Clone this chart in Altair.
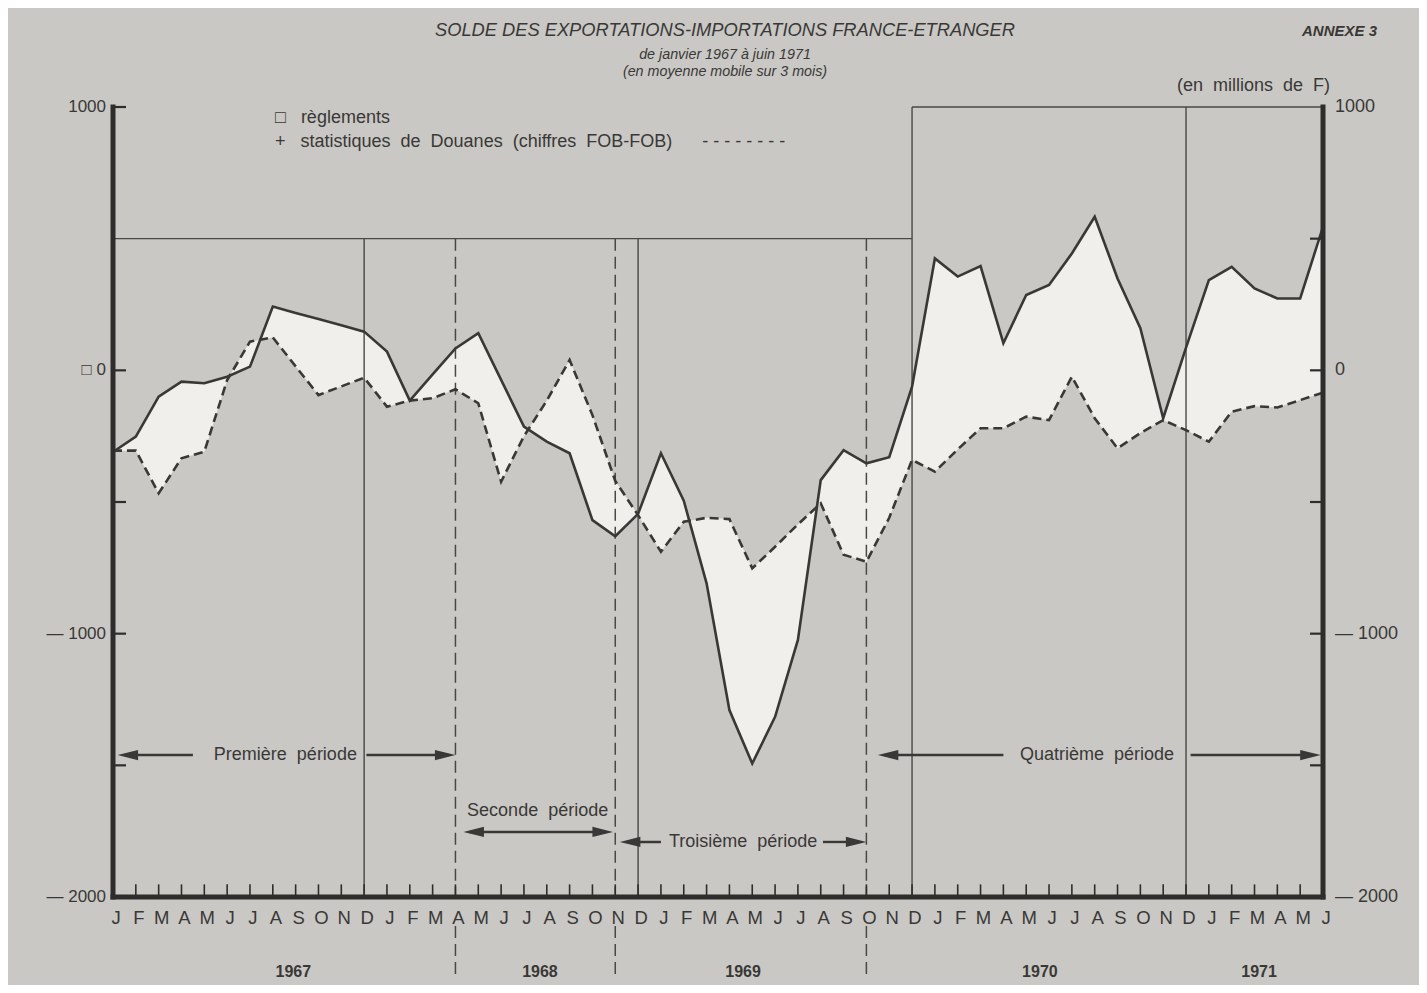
import altair as alt
import pandas as pd

# ---------------- data (millions de F, moyenne mobile 3 mois) ----------------
months = list("JFMAMJJASOND") * 4 + list("JFMAMJ")   # janv. 1967 -> juin 1971

reglements = [
    -310, -252, -100, -43, -49, -24, 14, 242, 218, 195, 171, 147,      # 1967
    71, -115, -15, 83, 141, -36, -214, -271, -315, -569, -630, -545,   # 1968
    -315, -495, -809, -1290, -1493, -1316, -1024, -417, -303, -353, -330, -62,  # 1969
    425, 356, 396, 103, 286, 324, 444, 583, 349, 160, -182, 86,        # 1970
    343, 393, 311, 273, 273, 545,                                      # 1971
]
douanes = [
    -305, -305, -467, -334, -309, -37, 109, 125, 15, -94, -61, -28,
    -138, -115, -106, -72, -125, -423, -250, -115, 39, -170, -420, -550,
    -689, -575, -560, -565, -752, -670, -585, -505, -700, -727, -560, -340,
    -385, -300, -220, -220, -176, -189, -24, -182, -296, -238, -189, -227,
    -271, -157, -136, -141, -113, -85,
]

years = ["1967", "1968", "1969", "1970", "1971"]
year_pos = [7.9, 18.7, 27.6, 40.6, 50.2]

left_labels = ["1000", "\u25a1 0", "\u2014 1000", "\u2014 2000"]
right_labels = ["1000", "0", "\u2014 1000", "\u2014 2000"]
label_vals = [1000, 0, -1000, -2000]

NB = "\u00a0"
FONT = "Liberation Sans Narrow, Liberation Sans, sans-serif"
INK = "#3a3836"
BG = "#c9c8c5"
FILL = "#f1efec"

df = pd.DataFrame({"i": list(range(len(months))), "reg": reglements,
                   "dou": douanes, "m": months})

xs = alt.Scale(domain=[0, 53], nice=False, zero=False)
ys = alt.Scale(domain=[-2000, 1000], nice=False, zero=False)


def X(f):
    return alt.X(f, type="quantitative", scale=xs, axis=None)


def Y(f):
    return alt.Y(f, type="quantitative", scale=ys, axis=None)


def spaced(s):
    return s.replace(" ", NB + NB)


# ---------------- data layers ----------------
area = alt.Chart(df).mark_area(color=FILL, opacity=1).encode(
    x=X("i"), y=Y("reg"), y2="dou:Q")
line_reg = alt.Chart(df).mark_line(color=INK, strokeWidth=2.6, strokeJoin="miter").encode(
    x=X("i"), y=Y("reg"))
line_dou = alt.Chart(df).mark_line(color=INK, strokeWidth=2.6, strokeDash=[9, 5]).encode(
    x=X("i"), y=Y("dou"))

# ---------------- frame / grid lines ----------------
thin = pd.DataFrame({
    "x": [0, 35, 11, 23, 35, 47],
    "x2": [35, 53, 11, 23, 35, 47],
    "y": [500, 1000, 500, 500, 1000, 1000],
    "y2": [500, 1000, -2000, -2000, -2000, -2000],
})
thin_rules = alt.Chart(thin).mark_rule(color="#4a4846", strokeWidth=1.4).encode(
    x=X("x"), x2="x2:Q", y=Y("y"), y2="y2:Q")

dashed = pd.DataFrame({
    "x": [15, 22, 33, 15, 22, 33],
    "y": [500, 500, 500, -2110, -2110, -2110],
    "y2": [-2000, -2000, -2000, -2300, -2300, -2300],
})
dashed_rules = alt.Chart(dashed).mark_rule(color="#4a4846", strokeWidth=1.5,
                                           strokeDash=[12, 6]).encode(
    x=X("x"), y=Y("y"), y2="y2:Q")

axes = pd.DataFrame({
    "x": [0, 53, 0],
    "x2": [0, 53, 53],
    "y": [1000, 1000, -2000],
    "y2": [-2000, -2000, -2000],
})
axis_rules = alt.Chart(axes).mark_rule(color="#2f2d2b", strokeWidth=5, strokeCap="square").encode(
    x=X("x"), x2="x2:Q", y=Y("y"), y2="y2:Q")

# month ticks on bottom axis
mticks = pd.DataFrame({"i": list(range(1, 53))})
month_ticks = alt.Chart(mticks).mark_rule(color="#2f2d2b", strokeWidth=1.6).encode(
    x=X("i"), y=alt.datum(-2000, type="quantitative", scale=ys, axis=None),
    y2=alt.datum(-1952))

# value ticks on left / right axes
lt = pd.DataFrame({"v": [1000, 0, -500, -1000, -1500, -2000]})
left_ticks = alt.Chart(lt).mark_rule(color="#2f2d2b", strokeWidth=2.2).encode(
    x=alt.value(0), x2=alt.value(13), y=Y("v"))
rt = pd.DataFrame({"v": [500, 0, -500, -1000, -1500]})
right_ticks = alt.Chart(rt).mark_rule(color="#2f2d2b", strokeWidth=2.2).encode(
    x=alt.value(1197), x2=alt.value(1210), y=Y("v"))

# ---------------- axis texts ----------------
lab_l = pd.DataFrame({"t": left_labels, "v": label_vals})
left_text = alt.Chart(lab_l).mark_text(font=FONT, fontSize=17, color=INK, align="right",
                                       baseline="middle", dx=-7).encode(
    x=alt.value(0), y=Y("v"), text="t:N")
lab_r = pd.DataFrame({"t": right_labels, "v": label_vals})
right_text = alt.Chart(lab_r).mark_text(font=FONT, fontSize=18, color=INK, align="left",
                                        baseline="middle", dx=12).encode(
    x=alt.value(1210), y=Y("v"), text="t:N")

month_text = alt.Chart(df).mark_text(font=FONT, fontSize=18.5, color=INK, baseline="middle",
                                     dx=3).encode(
    x=X("i"), y=alt.value(811), text="m:N")

year_df = pd.DataFrame({"t": years, "x": year_pos})
year_text = alt.Chart(year_df).mark_text(font=FONT, fontSize=16, fontWeight="bold",
                                         color=INK, baseline="middle").encode(
    x=X("x"), y=alt.value(865), text="t:N")

# ---------------- period annotations ----------------
per = pd.DataFrame({
    "t": [spaced("Première période"), spaced("Seconde période"),
          spaced("Troisième période"), spaced("Quatrième période")],
    "x": [7.55, 18.6, 27.6, 43.1],
    "v": [-1461, -1674, -1791, -1461],
})
per_text = alt.Chart(per).mark_text(font=FONT, fontSize=18, color=INK,
                                    baseline="middle").encode(
    x=X("x"), y=Y("v"), text="t:N")

arr = pd.DataFrame({
    "x": [0.7, 11.1, 15.6, 22.5, 31.1, 33.9, 47.2],
    "x2": [3.5, 14.3, 21.4, 24.0, 32.5, 39.0, 52.3],
    "v": [-1461, -1461, -1753, -1791, -1791, -1461, -1461],
})
arrow_lines = alt.Chart(arr).mark_rule(color=INK, strokeWidth=2.4).encode(
    x=X("x"), x2="x2:Q", y=Y("v"))

heads_l = pd.DataFrame({"x": [0.65, 15.8, 22.65, 33.95], "v": [-1461, -1753, -1791, -1461]})
heads_r = pd.DataFrame({"x": [14.55, 21.45, 32.55, 52.45], "v": [-1461, -1753, -1791, -1461]})
LEFT_HEAD = "M -1 0 L 1 -0.5 L 1 0.5 Z"
RIGHT_HEAD = "M 1 0 L -1 -0.5 L -1 0.5 Z"
arrow_l = alt.Chart(heads_l).mark_point(shape=LEFT_HEAD, filled=True, size=420, color=INK,
                                        opacity=1).encode(x=X("x"), y=Y("v"))
arrow_r = alt.Chart(heads_r).mark_point(shape=RIGHT_HEAD, filled=True, size=420, color=INK,
                                        opacity=1).encode(x=X("x"), y=Y("v"))

# ---------------- titles, legend ----------------
titles = pd.DataFrame({
    "t": ["SOLDE DES EXPORTATIONS-IMPORTATIONS FRANCE-ETRANGER"],
    "px": [612], "py": [-76],
})
title_text = alt.Chart(titles).mark_text(font=FONT, fontSize=18.3, fontStyle="italic",
                                         color=INK, align="center", baseline="middle").encode(
    x=alt.X("px:Q", scale=None), y=alt.Y("py:Q", scale=None), text="t:N")

subs = pd.DataFrame({
    "t": ["de janvier 1967 à juin 1971", "(en moyenne mobile sur 3 mois)"],
    "px": [612, 612], "py": [-52, -35],
})
sub_text = alt.Chart(subs).mark_text(font=FONT, fontSize=14.3, fontStyle="italic",
                                     color=INK, align="center", baseline="middle").encode(
    x=alt.X("px:Q", scale=None), y=alt.Y("py:Q", scale=None), text="t:N")

annexe = pd.DataFrame({"t": ["ANNEXE 3"], "px": [1264], "py": [-76]})
annexe_text = alt.Chart(annexe).mark_text(font=FONT, fontSize=15, fontStyle="italic",
                                          fontWeight="bold", color=INK, align="right",
                                          baseline="middle").encode(
    x=alt.X("px:Q", scale=None), y=alt.Y("py:Q", scale=None), text="t:N")

unit = pd.DataFrame({"t": [spaced("(en millions de F)")], "px": [1217], "py": [-21]})
unit_text = alt.Chart(unit).mark_text(font=FONT, fontSize=18, color=INK, align="right",
                                      baseline="middle").encode(
    x=alt.X("px:Q", scale=None), y=alt.Y("py:Q", scale=None), text="t:N")

leg = pd.DataFrame({
    "t": ["\u25a1" + NB * 3 + "règlements",
          "+" + NB * 3 + spaced("statistiques de Douanes (chiffres FOB-FOB)")
          + NB * 6 + "- - - - - - - -"],
    "px": [162, 162], "py": [11, 35],
})
leg_text = alt.Chart(leg).mark_text(font=FONT, fontSize=18, color=INK, align="left",
                                    baseline="middle").encode(
    x=alt.X("px:Q", scale=None), y=alt.Y("py:Q", scale=None), text="t:N")

chart = alt.layer(
    area, thin_rules, dashed_rules, line_dou, line_reg,
    axis_rules, month_ticks, left_ticks, right_ticks,
    left_text, right_text, month_text, year_text,
    per_text, arrow_lines, arrow_l, arrow_r,
    title_text, sub_text, annexe_text, unit_text, leg_text,
).properties(
    width=1210, height=790,
    padding={"left": 105, "top": 99, "right": 96, "bottom": 88},
    autosize=alt.AutoSizeParams(type="none"),
    background=BG,
).configure_view(stroke=None)

chart.save("out.html", embed_options={"renderer": "svg", "actions": False})
